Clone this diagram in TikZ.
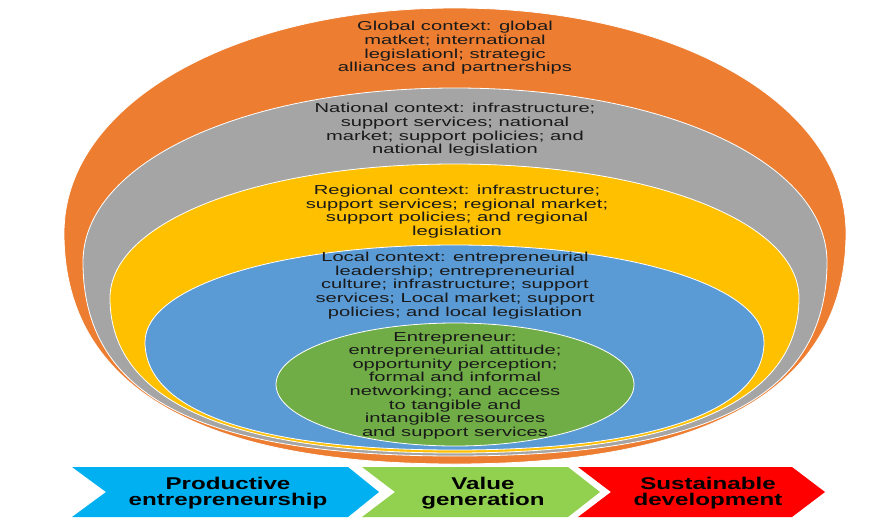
\documentclass[tikz,border=0pt]{standalone}
\usepackage{fontspec}
\newfontfamily\ctxfont[FakeStretch=1.55]{Liberation Sans}
\newfontfamily\arrfont[FakeStretch=1.42]{Liberation Sans}
\definecolor{cOrange}{HTML}{ED7D31}
\definecolor{cGray}{HTML}{A5A5A5}
\definecolor{cYellow}{HTML}{FFC000}
\definecolor{cBlue}{HTML}{5B9BD5}
\definecolor{cGreen}{HTML}{70AD47}
\definecolor{aBlue}{HTML}{00B0F0}
\definecolor{aGreen}{HTML}{92D050}
\definecolor{aRed}{HTML}{FF0000}
\definecolor{txt}{HTML}{1A1A1A}
\newcommand\kt{0.57}
% #1 left x, #2 right x, #3 y of widest point, #4 top y, #5 bottom y, #6 colour, #7 bottom fullness
\newcommand\bowlshape[7]{%
  \pgfmathsetmacro\bxc{(#1+#2)/2}%
  \pgfmathsetmacro\brx{(#2-#1)/2}%
  \path[layer, fill=#6] (#1,#3)
    .. controls (#1,{#3-\kt*(#3-#4)}) and ({\bxc-\kt*\brx},#4) .. (\bxc,#4)
    .. controls ({\bxc+\kt*\brx},#4) and (#2,{#3-\kt*(#3-#4)}) .. (#2,#3)
    .. controls (#2,{#3+#7*(#5-#3)}) and ({\bxc+#7*\brx},#5) .. (\bxc,#5)
    .. controls ({\bxc-#7*\brx},#5) and (#1,{#3+#7*(#5-#3)}) .. cycle;}
\tikzset{
  layer/.style={draw=white, line width=0.8pt},
  ctx/.style={align=center, inner sep=0pt, text=txt, font=\ctxfont\fontsize{13}{13.6}\selectfont},
  arr/.style={align=center, inner sep=0pt, text=black, font=\arrfont\bfseries\fontsize{17}{16}\selectfont},
}
\begin{document}
\begin{tikzpicture}[x=1pt, y=-1pt]
\useasboundingbox (0,0) rectangle (886,523);
% nested layers
\bowlshape{64}{846}{233}{8}{464}{cOrange}{0.66}
\bowlshape{83}{827}{262}{88}{456}{cGray}{0.69}
\bowlshape{110}{799}{298}{164}{453}{cYellow}{0.66}
\bowlshape{145}{764}{342}{245}{450}{cBlue}{0.64}
\path[layer, fill=cGreen] (455,384.5) ellipse [x radius=179, y radius=61.5];
% texts
\node[ctx] (global) at (455,48) {Global context: global\\matket; international\\legislationl; strategic\\alliances and partnerships};
\node[ctx] (national) at (455,130) {National context: infrastructure;\\support services; national\\market; support policies; and\\national legislation};
\node[ctx] (regional) at (457,211.5) {Regional context: infrastructure;\\support services; regional market;\\support policies; and regional\\legislation};
\node[ctx] (local) at (455,285.5) {Local context: entrepreneurial\\leadership; entrepreneurial\\culture; infrastructure; support\\services; Local market; support\\policies; and local legislation};
\node[ctx] (entre) at (455,385.5) {Entrepreneur:\\entrepreneurial attitude;\\opportunity perception;\\formal and informal\\networking; and access\\to tangible and\\intangible resources\\and support services};
% chevrons
\fill[aBlue] (72,467) -- (348,467) -- (379,492) -- (348,517) -- (72,517) -- (106,492) -- cycle;
\fill[aGreen] (362,467) -- (568,467) -- (600,492) -- (568,517) -- (362,517) -- (395,492) -- cycle;
\fill[aRed] (578,467) -- (792,467) -- (825,492) -- (792,517) -- (578,517) -- (611,492) -- cycle;
\node[arr] (prod) at (228,493.5) {Productive\\entrepreneurship};
\node[arr] (value) at (483,493.5) {Value\\generation};
\node[arr] (sust) at (708,493.5) {Sustainable\\development};
\end{tikzpicture}
\end{document}
